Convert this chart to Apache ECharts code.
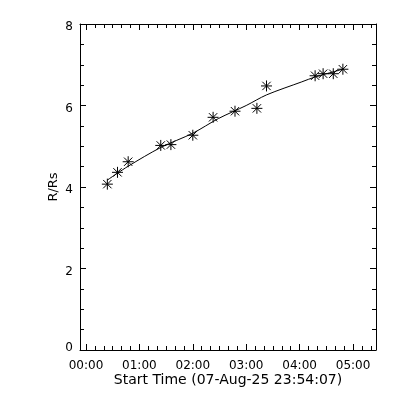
<!DOCTYPE html>
<html>
<head>
<meta charset="utf-8">
<script src="https://cdn.jsdelivr.net/npm/echarts@6/dist/echarts.min.js"></script>
<style>html,body{margin:0;padding:0;background:#fff}#c{width:400px;height:400px}</style>
</head>
<body>
<div id="c"></div>
<script>
// Elapsed hours since start time
var obsHours = [0.40, 0.59, 0.79, 1.40, 1.59, 2.00, 2.38, 2.79, 3.20, 3.38, 4.29, 4.44, 4.63, 4.81];
var obsR     = [4.07, 4.36, 4.62, 5.02, 5.04, 5.27, 5.71, 5.86, 5.93, 6.48, 6.73, 6.78, 6.78, 6.89];
var fitHours = [0.40, 0.79, 1.40, 2.00, 2.48, 3.00, 3.38, 4.04, 4.29, 4.81];
var fitR     = [4.17, 4.51, 4.97, 5.32, 5.68, 6.00, 6.26, 6.58, 6.70, 6.89];
var xMajorTicks = [0, 1, 2, 3, 4, 5];
var xTickLabels = ['00:00', '01:00', '02:00', '03:00', '04:00', '05:00'];
var xMinorTicks = [];
for (var m = 10; m <= 320; m += 10) { if (m % 60 !== 0) xMinorTicks.push(m / 60); }
var xTitle = 'Start Time (07-Aug-25 23:54:07)';
var yTitle = 'R/Rs';
var xMin = -0.112, xMax = 5.43;

var font = 'DejaVu Sans';
var chart = echarts.init(document.getElementById('c'), null, {renderer: 'canvas'});
function xa(pos, major, showLine) {
  return {
    type: 'value', position: pos, min: xMin, max: xMax,
    axisLine: {show: showLine, onZero: false, lineStyle: {color: '#000', width: 1}},
    axisTick: {show: true, inside: true, length: major ? 6 : 4,
      customValues: major ? xMajorTicks : xMinorTicks,
      lineStyle: {color: '#000', width: 1}},
    axisLabel: {show: major && pos === 'bottom', customValues: xMajorTicks,
      color: '#000', fontFamily: font, fontSize: 12, margin: 10,
      formatter: function (v) { var i = xMajorTicks.indexOf(Math.round(v)); return i >= 0 ? xTickLabels[i] : ''; }},
    splitLine: {show: false},
    name: (major && pos === 'bottom') ? xTitle : '',
    nameLocation: 'middle', nameGap: 23, nameMoveOverlap: false,
    nameTextStyle: {color: '#000', fontFamily: font, fontSize: 14}
  };
}
function ya(pos) {
  return {
    type: 'value', position: pos, min: 0, max: 8, interval: 2,
    axisLine: {show: true, onZero: false, lineStyle: {color: '#000', width: 1}},
    axisTick: {show: true, inside: true, length: 6, lineStyle: {color: '#000'}},
    minorTick: {show: true, splitNumber: 4, length: 4, lineStyle: {color: '#000'}},
    axisLabel: {show: pos === 'left', color: '#000', fontFamily: font, fontSize: 12, margin: 7,
      formatter: function (v) { return v === 0 ? '{z|0}' : '{n|' + v + '}'; },
      rich: {
        z: {color: '#000', fontFamily: font, fontSize: 12, padding: [0, 0, 4, 0]},
        n: {color: '#000', fontFamily: font, fontSize: 12, padding: [6, 0, 0, 0]}
      }},
    splitLine: {show: false}, minorSplitLine: {show: false},
    name: pos === 'left' ? yTitle : '', nameLocation: 'middle', nameGap: 20, nameMoveOverlap: false,
    nameTextStyle: {color: '#000', fontFamily: font, fontSize: 13}
  };
}
var star = 'path://M5,0L5,10M0,5L10,5M1.2,1.2L8.8,8.8M1.2,8.8L8.8,1.2';
chart.setOption({
  animation: false,
  backgroundColor: '#fff',
  grid: {left: 80, right: 24, top: 24, bottom: 50, containLabel: false},
  xAxis: [xa('bottom', true, true), xa('bottom', false, false), xa('top', true, true), xa('top', false, false)],
  yAxis: [ya('left'), ya('right')],
  series: [
    {type: 'line', data: fitHours.map(function (h, i) { return [h, fitR[i]]; }),
     smooth: 0.3, showSymbol: false, lineStyle: {color: '#000', width: 1}, silent: true},
    {type: 'scatter', data: obsHours.map(function (h, i) { return [h, obsR[i]]; }),
     symbol: star, symbolSize: 11,
     itemStyle: {color: 'none', borderColor: '#000', borderWidth: 1, opacity: 1}}
  ]
});
</script>
</body>
</html>
